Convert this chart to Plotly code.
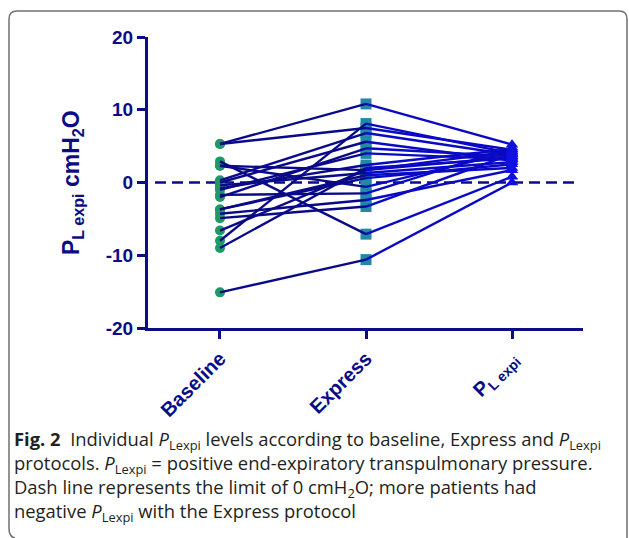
import plotly.graph_objects as go

categories = ["Baseline", "Express", "P<sub>L expi</sub>"]
baseline = [5.3, 5.3, 2.9, 2.3, 2.3, 0.3, 0.0, -0.4, -0.8, -1.0, -1.7, -2.0, -3.7, -4.3, -4.9, -6.6, -8.0, -9.0, -15.1, -3.7]
express = [10.8, 7.5, -7.1, 1.7, -0.6, 6.8, 5.6, 1.3, 2.4, 4.0, -1.5, 4.7, 0.6, -2.4, -3.3, 1.7, 8.1, 2.0, -10.6, 1.0]
plexpi = [5.2, 4.5, 0.8, 3.5, 4.2, 3.8, 3.0, 2.8, 4.6, 3.2, 4.8, 3.6, 2.5, 1.7, 3.9, 4.3, 4.0, 3.3, 0.0, 2.0]
y_ticks = [-20, -10, 0, 10, 20]

NAVY = "#0c0c86"
W, H = 629, 538
L, R, T, B = 148, 46, 37, 210
PW, PH = W - L - R, H - T - B

def px(x):
    return (x - L) / PW

def py(y):
    return (H - B - y) / PH

xs = [0, 1, 2]
fig = go.Figure()

sx1, sy1, sx2, sy2 = [], [], [], []
for b, e, p in zip(baseline, express, plexpi):
    sx1 += [xs[0], xs[1], None]
    sy1 += [b, e, None]
    sx2 += [xs[1], xs[2], None]
    sy2 += [e, p, None]

fig.add_trace(go.Scatter(x=[-0.445, 2.452], y=[0, 0], mode="lines",
                         line=dict(color=NAVY, width=2.5, dash="11px,6px"),
                         hoverinfo="skip", showlegend=False))
fig.add_trace(go.Scatter(x=[xs[0]] * len(baseline), y=baseline, mode="markers",
                         marker=dict(symbol="circle", size=10, color="#1f9966"),
                         showlegend=False))
fig.add_trace(go.Scatter(x=[xs[1]] * len(express), y=express, mode="markers",
                         marker=dict(symbol="square", size=11, color="#2189a6"),
                         showlegend=False))
fig.add_trace(go.Scatter(x=sx1, y=sy1, mode="lines",
                         line=dict(color="#0a0a88", width=2.4), showlegend=False))
fig.add_trace(go.Scatter(x=sx2, y=sy2, mode="lines",
                         line=dict(color="#0a0ac4", width=2.4), showlegend=False))
fig.add_trace(go.Scatter(x=[xs[2]] * len(plexpi), y=plexpi, mode="markers",
                         marker=dict(symbol="triangle-up", size=11, color="#1010e0"),
                         showlegend=False))

tick_font = dict(family="Arial, Liberation Sans", size=19, color=NAVY)
xtick_font = dict(family="Arial, Liberation Sans", size=20, color=NAVY)

fig.update_layout(
    width=W, height=H,
    margin=dict(l=L, r=R, t=T, b=B, pad=0),
    plot_bgcolor="white", paper_bgcolor="white",
    xaxis=dict(range=[-0.493, 2.486], tickmode="array", tickvals=xs,
               ticktext=[f"<b>{c}</b>" for c in categories],
               tickangle=-45, tickfont=xtick_font, showgrid=False, zeroline=False,
               showline=True, linecolor=NAVY, linewidth=3, ticks="outside",
               ticklen=8, tickwidth=3, tickcolor=NAVY, fixedrange=True, automargin=False),
    yaxis=dict(range=[-20, 20], tickmode="array", tickvals=y_ticks,
               ticktext=[f"<b>{v}</b>" for v in y_ticks],
               tickfont=tick_font, showgrid=False, zeroline=False,
               showline=True, linecolor=NAVY, linewidth=3, ticks="outside",
               ticklen=8, tickwidth=3, tickcolor=NAVY, fixedrange=True, automargin=False),
)

fig.add_annotation(x=px(72), y=py(183), xref="paper", yref="paper",
                   text="<b>P<sub>L expi</sub> cmH<sub>2</sub>O</b>", textangle=-90,
                   showarrow=False, font=dict(family="Arial, Liberation Sans", size=23, color=NAVY),
                   xanchor="center", yanchor="middle")

x0, x1 = px(9), px(627)
y1 = py(11)
rx, ry = 8 / PW, 8 / PH
path = (f"M {x0},{py(528)} L {x0},{y1 - ry} Q {x0},{y1} {x0 + rx},{y1} "
        f"L {x1 - rx},{y1} Q {x1},{y1} {x1},{y1 - ry} L {x1},{py(545)}")
fig.add_shape(type="path", path=path, xref="paper", yref="paper",
              line=dict(color="#707070", width=1.5))
fig.add_shape(type="path", path=f"M {px(9)},{py(528)} Q {px(9)},{py(537)} {px(15)},{py(538)}",
              xref="paper", yref="paper", line=dict(color="#707070", width=1.5))

cap_font = dict(family="Open Sans, Noto Sans", size=18.4, color="#231f20")
P = "<i>P</i><sub>Lexpi</sub>"
lines = [
    f"<b>Fig. 2</b>  Individual {P} levels according to baseline, Express and {P}",
    f"protocols. {P} = positive end-expiratory transpulmonary pressure.",
    "Dash line represents the limit of 0 cmH<sub>2</sub>O; more patients had",
    f"negative {P} with the Express protocol",
]
fig.add_annotation(x=px(12), y=py(424), xref="paper", yref="paper",
                   text="<br>".join(lines), showarrow=False, font=cap_font,
                   xanchor="left", yanchor="top", align="left")

fig.write_html("out.html", config={"displayModeBar": False},
               post_script="document.body.style.margin='0';document.body.style.overflow='hidden';")
